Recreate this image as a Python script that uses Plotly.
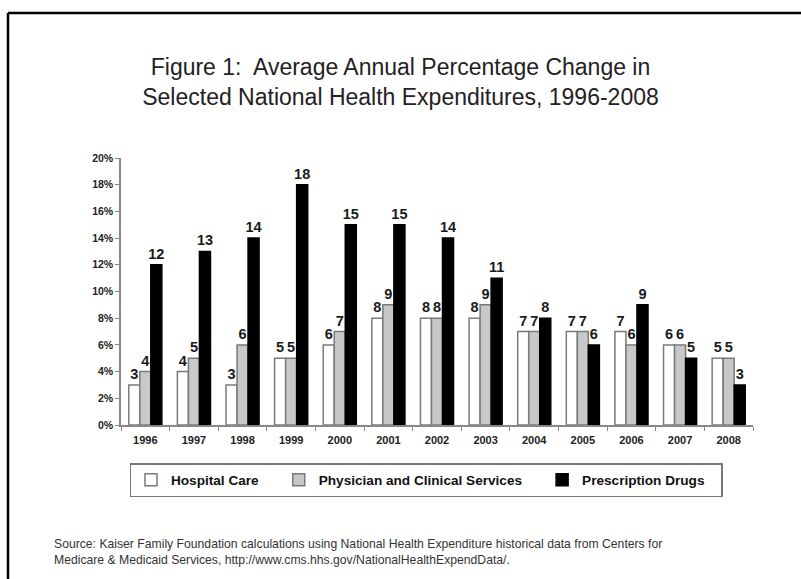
import plotly.graph_objects as go

years = ["1996", "1997", "1998", "1999", "2000", "2001", "2002",
         "2003", "2004", "2005", "2006", "2007", "2008"]
hospital = [3, 4, 3, 5, 6, 8, 8, 8, 7, 7, 7, 6, 5]
physician = [4, 5, 6, 5, 7, 9, 8, 9, 7, 7, 6, 6, 5]
drugs = [12, 13, 14, 18, 15, 15, 14, 11, 8, 6, 9, 5, 3]
series_names = ["Hospital Care", "Physician and Clinical Services", "Prescription Drugs"]
y_ticks = [0, 2, 4, 6, 8, 10, 12, 14, 16, 18, 20]

W, H = 801, 579
L, R, T, B = 121, 48, 158, 154
pw, ph = W - L - R, H - T - B

def px_x(x):
    return (x - L) / pw

def px_y(y):
    return (H - B - y) / ph

fills = ["#ffffff", "#c8c8c8", "#000000"]
lines = ["#7a7a7a", "#7a7a7a", "#000000"]
pads = [4, 4, 3]  # trailing non-breaking spaces to widen legend entries

fig = go.Figure()
for vals, name, fc, lc, pad in zip([hospital, physician, drugs], series_names, fills, lines, pads):
    fig.add_trace(go.Bar(
        x=years, y=vals, name=name + "\u00a0" * pad,
        marker=dict(color=fc, line=dict(color=lc, width=1.5)),
        text=[str(v) for v in vals], textposition="outside",
        textfont=dict(family="Arial", size=14.5, color="#1a1a1a", weight="bold"),
        constraintext="none", cliponaxis=False,
    ))

fig.update_layout(
    width=W, height=H,
    margin=dict(l=L, r=R, t=T, b=B),
    paper_bgcolor="white", plot_bgcolor="white",
    barmode="group", bargap=0.32, bargroupgap=0,
    font=dict(family="Arial", color="#222"),
    title=dict(
        text="Figure 1:  Average Annual Percentage Change in<br>Selected National Health Expenditures, 1996-2008",
        x=0.5, xref="container", xanchor="center",
        y=1 - 75 / H, yref="container", yanchor="middle",
        font=dict(family="Arial", size=23, color="#222"),
    ),
    xaxis=dict(
        type="category", tickson="boundaries", ticks="outside", ticklen=4,
        tickcolor="#888", showline=True, linecolor="#888", linewidth=1.5,
        tickfont=dict(family="Arial", size=11, color="#222", weight="bold"),
        ticklabelstandoff=4, showgrid=False,
    ),
    yaxis=dict(
        range=[0, 20], tickvals=y_ticks, ticktext=[f"{v}%" for v in y_ticks],
        ticks="outside", ticklen=4, tickcolor="#888",
        showline=True, linecolor="#888", linewidth=1.5,
        tickfont=dict(family="Arial", size=10.5, color="#222", weight="bold"),
        showgrid=False, zeroline=False,
    ),
    legend=dict(
        orientation="h", x=px_x(426), xanchor="center",
        y=px_y(463), yanchor="top",
        bordercolor="#777", borderwidth=1.5, bgcolor="white",
        font=dict(family="Arial", size=13.6, color="#111", weight="bold"),
        traceorder="normal", itemwidth=30,
    ),
    showlegend=True,
)

fig.add_annotation(
    text="Source: Kaiser Family Foundation calculations using National Health Expenditure historical data from Centers for<br>"
         "Medicare &amp; Medicaid Services, http://www.cms.hhs.gov/NationalHealthExpendData/.",
    xref="paper", yref="paper", x=px_x(52), y=px_y(535),
    xanchor="left", yanchor="top", align="left", showarrow=False,
    font=dict(family="Arial", size=12.2, color="#333"),
)

# page frame (top and left edges)
fig.add_shape(type="line", xref="paper", yref="paper",
              x0=px_x(8), x1=px_x(W + 5), y0=px_y(13), y1=px_y(13),
              line=dict(color="#000", width=2.5))
fig.add_shape(type="line", xref="paper", yref="paper",
              x0=px_x(8), x1=px_x(8), y0=px_y(13), y1=px_y(H + 5),
              line=dict(color="#000", width=2.5))

fig.write_html("out.html")
